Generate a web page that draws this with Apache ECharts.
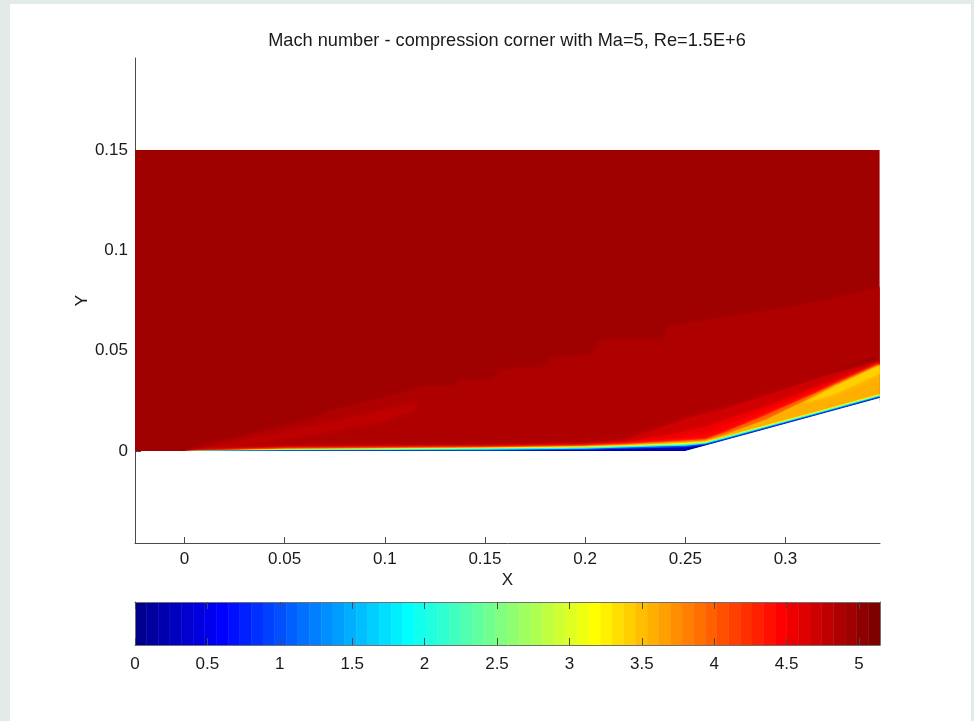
<!DOCTYPE html>
<html>
<head>
<meta charset="utf-8">
<style>
html,body{margin:0;padding:0;background:#e3ebe8;overflow:hidden}
#panel{position:absolute;left:10px;top:4px;width:961px;height:717px;background:#fff}
#c{position:absolute;left:0;top:0;width:974px;height:721px}
</style>
<script src="https://cdn.jsdelivr.net/npm/echarts@6/dist/echarts.min.js"></script>
</head>
<body>
<div id="panel"></div>
<div id="c"></div>
<script>
const titleText = 'Mach number - compression corner with Ma=5, Re=1.5E+6';
const xTicks = [0, 0.05, 0.1, 0.15, 0.2, 0.25, 0.3];
const yTicks = [0, 0.05, 0.1, 0.15];
const yTickMarks = [-0.0458, 0];
const barTicks = [0, 0.5, 1, 1.5, 2, 2.5, 3, 3.5, 4, 4.5, 5];

// lower edges of the 64 colour bar cells
const barEdges = [0,.08,.161,.241,.322,.402,.482,.563,.643,.724,.804,.884,.965,1.045,1.125,1.206,
  1.286,1.367,1.447,1.527,1.608,1.688,1.769,1.849,1.929,2.01,2.09,2.171,2.251,2.331,2.412,2.492,
  2.572,2.653,2.733,2.814,2.894,2.974,3.055,3.135,3.216,3.296,3.376,3.457,3.537,3.617,3.698,3.778,
  3.859,3.939,4.019,4.1,4.18,4.261,4.341,4.421,4.502,4.582,4.662,4.743,4.823,4.904,4.984,5.065];
const barMax = 5.145;

// surface and stations
const stationX = [0,.05,.1,.15,.2,.22,.24,.25,.26,.27,.29,.32,.347];
const wallY    = [0,0,0,0,0,0,0,0,.0027,.0054,.0108,.0189,.0264];

// free stream region outline
const freeStream = [[-.0247,0],[0,0],[.25,0],[.347,.0264],[.347,.15],[-.0247,.15]];
const freeStreamMach = 4.95;

// shock region top boundary
const shockTop = [[0,0],[.0641,.0164],[.0741,.0204],[.0991,.0264],[.114,.0304],[.1175,.0319],[.134,.0319],
  [.1375,.0354],[.154,.0354],[.1574,.0404],[.1809,.0419],[.1824,.0463],[.2038,.0478],[.2073,.0553],
  [.2388,.0553],[.2413,.0618],[.2707,.0668],[.3036,.0717],[.3371,.0787],[.347,.0817]];
const shockMach = 4.87;

// streaks
const leadingStreak = [[.005,.0005],[.0676,.013],[.1,.0204],[.115,.024],[.115,.0204],[.1,.0154],[.0676,.009],[.02,.0015]];
const leadingStreakMach = 4.79;
const rampStreak = [[.30,.0315],[.325,.0404],[.345,.047],[.345,.0445],[.325,.0385],[.30,.0305]];
const rampStreakMach = 4.95;
const orangeStreak = [[.347,.0425],[.347,.0385],[.325,.0285],[.31,.0240],[.325,.0325]];
const orangeStreakMach = 3.42;

// solid body below the surface
const wallBody = [[0,0],[.25,0],[.347,.0264],[.347,.012],[.25,-.008],[0,-.008]];

// contour tops at each station
const mach471 = [0,.0019,.0021,.0025,.0034,.0055,.0125,.016,.0187,.0212,.0277,.0375,.0448];
const mach455 = [0,.0016,.0019,.0022,.0031,.0044,.0078,.0098,.012,.0155,.0222,.0335,.0440];
const mach446 = [0,.0015,.0018,.0021,.0029,.0039,.0058,.0070,.0085,.0125,.0205,.0327,.0437];
const mach398 = [0,.0013,.0016,.0019,.0027,.0035,.0046,.0052,.0059,.0095,.0178,.0312,.0432];
const mach358 = [0,.0011,.0015,.0018,.0025,.0032,.0041,.0046,.0053,.0082,.0155,.0301,.0428];
const mach320 = [0,.0009,.0013,.0017,.0023,.0029,.0037,.0041,.0047,.0074,.0128,.0209,.0284];
const mach260 = [0,.00075,.0011,.0014,.0020,.0026,.0033,.0037,.0044,.0071,.0125,.0206,.0281];
const mach200 = [0,.0006,.0008,.0011,.0017,.0023,.0029,.0032,.0041,.0067,.0121,.0202,.0277];
const mach100 = [0,.0004,.0005,.0007,.0012,.0018,.0024,.0027,.0037,.0063,.0117,.0198,.0273];
const mach020 = [0,.00015,.0002,.0002,.0006,.0011,.0016,.0019,.0032,.0058,.0112,.0193,.0268];

function jet(i){
  const v=(i+1)/64, c=x=>Math.round(255*Math.max(0,Math.min(1,1.5-4*Math.abs(v-x))));
  return 'rgb('+c(.75)+','+c(.5)+','+c(.25)+')';
}
function machColor(m){
  let i=0; while(i<63 && barEdges[i+1]<=m) i++;
  return jet(i);
}
function band(ys){
  const top=stationX.map((x,i)=>[x,ys[i]]);
  const bot=stationX.map((x,i)=>[x,wallY[i]]).reverse();
  return top.concat(bot);
}
function shockBand(){
  const bot=stationX.map((x,i)=>[x,wallY[i]]).reverse();
  return shockTop.concat(bot);
}
const regions = [
  {m:freeStreamMach, p:freeStream, soft:0},
  {m:shockMach, p:shockBand(), soft:7},
  {m:leadingStreakMach, p:leadingStreak, soft:6},
  {m:rampStreakMach, p:rampStreak, soft:4},
  {m:4.71, p:band(mach471), soft:5},
  {m:4.55, p:band(mach455), soft:4},
  {m:4.46, p:band(mach446), soft:3},
  {m:3.98, p:band(mach398), soft:3},
  {m:3.58, p:band(mach358), soft:2},
  {m:orangeStreakMach, p:orangeStreak, soft:4},
  {m:3.20, p:band(mach320), soft:0},
  {m:2.60, p:band(mach260), soft:0},
  {m:2.00, p:band(mach200), soft:0},
  {m:1.00, p:band(mach100), soft:0},
  {m:0.20, p:band(mach020), soft:0},
  {fill:'#ffffff', p:wallBody, soft:0}
];

const font='"Liberation Sans",Arial,sans-serif';
const txt='#1a1a1a', line='#4a4a4a';
const chart=echarts.init(document.getElementById('c'),null,{renderer:'canvas'});
chart.setOption({
  animation:false,
  backgroundColor:'transparent',
  title:{text:titleText,left:502,top:27,textAlign:'center',
    textStyle:{fontFamily:font,fontSize:18.2,fontWeight:'normal',color:txt}},
  grid:[
    {left:135,top:58,width:745,height:485,containLabel:false},
    {left:135,top:602,width:745,height:43,containLabel:false}
  ],
  xAxis:[
    {type:'value',gridIndex:0,min:-.0247,max:.3472,name:'X',nameLocation:'middle',nameGap:29,nameMoveOverlap:false,
      nameTextStyle:{fontFamily:font,fontSize:17,color:txt},
      axisLine:{onZero:false,lineStyle:{color:line,width:1}},
      axisTick:{inside:true,length:6,customValues:xTicks,lineStyle:{color:line}},
      axisLabel:{customValues:xTicks,margin:8,fontFamily:font,fontSize:17,color:txt,formatter:v=>String(v)},
      splitLine:{show:false}},
    {type:'value',gridIndex:1,min:0,max:barMax,position:'bottom',z:5,
      axisLine:{onZero:false,lineStyle:{color:'#707070',width:1}},
      axisTick:{inside:true,length:7,customValues:barTicks,lineStyle:{color:line}},
      axisLabel:{customValues:barTicks,margin:11,fontFamily:font,fontSize:17,color:txt,formatter:v=>String(v)},
      splitLine:{show:false}},
    {type:'value',gridIndex:1,min:0,max:barMax,position:'top',z:5,
      axisLine:{onZero:false,lineStyle:{color:'#707070',width:1}},
      axisTick:{inside:true,length:7,customValues:barTicks,lineStyle:{color:line}},
      axisLabel:{show:false},splitLine:{show:false}}
  ],
  yAxis:[
    {type:'value',gridIndex:0,min:-.0458,max:.1958,name:'Y',nameLocation:'middle',nameGap:44,nameMoveOverlap:false,nameRotate:90,
      nameTextStyle:{fontFamily:font,fontSize:17,color:txt},
      axisLine:{onZero:false,lineStyle:{color:line,width:1}},
      axisTick:{inside:true,length:6,customValues:yTickMarks,lineStyle:{color:line}},
      axisLabel:{customValues:yTicks,margin:7,fontFamily:font,fontSize:17,color:txt,formatter:v=>String(v)},
      splitLine:{show:false}},
    {type:'value',gridIndex:1,min:0,max:1,position:'left',z:5,
      axisLine:{onZero:false,lineStyle:{color:'#707070',width:1}},
      axisTick:{show:false},axisLabel:{show:false},splitLine:{show:false}},
    {type:'value',gridIndex:1,min:0,max:1,position:'right',z:5,
      axisLine:{onZero:false,lineStyle:{color:'#707070',width:1}},
      axisTick:{show:false},axisLabel:{show:false},splitLine:{show:false}}
  ],
  series:[
    {type:'custom',xAxisIndex:0,yAxisIndex:0,clip:true,silent:true,coordinateSystem:'cartesian2d',
      data:regions.map((r,i)=>[r.p[0][0],r.p[0][1],i]),
      encode:{x:0,y:1},
      renderItem:(params,api)=>{
        const r=regions[api.value(2)];
        const fill=r.fill||machColor(r.m);
        return {type:'polygon',shape:{points:r.p.map(q=>api.coord(q))},
          style:{fill:fill,shadowBlur:r.soft,shadowColor:r.soft?fill:'transparent'}};
      }},
    {type:'custom',xAxisIndex:1,yAxisIndex:1,clip:true,silent:true,coordinateSystem:'cartesian2d',
      data:barEdges.map((e,i)=>[e,i<63?barEdges[i+1]:barMax,i]),
      encode:{x:[0,1]},
      renderItem:(params,api)=>{
        const a=api.coord([api.value(0),1]), b=api.coord([api.value(1),0]);
        const c=jet(api.value(2));
        return {type:'rect',shape:{x:a[0],y:a[1],width:b[0]-a[0],height:b[1]-a[1]},style:{fill:c,stroke:c,lineWidth:.5}};
      }}
  ]
});
</script>
</body>
</html>
